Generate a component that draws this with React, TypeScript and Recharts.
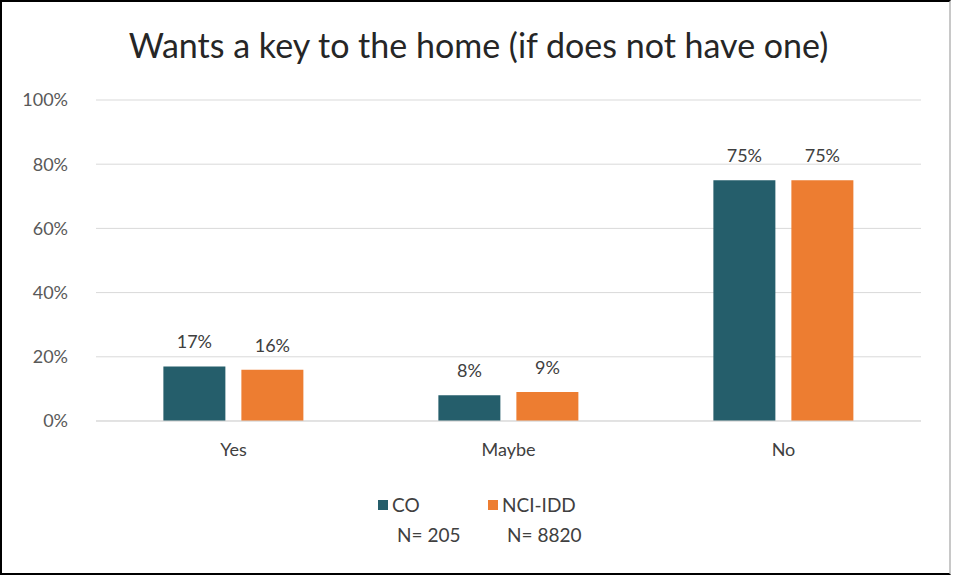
import React from 'react';
import { BarChart, Bar, XAxis, YAxis, CartesianGrid, LabelList } from 'recharts';

const categories = ['Yes', 'Maybe', 'No'];
const coValues = [17, 8, 75];
const nciValues = [16, 9, 75];
const yTicks = [0, 20, 40, 60, 80, 100];

const data = categories.map((name, i) => ({ name, co: coValues[i], nci: nciValues[i] }));

const FONT = 'Lato, "Open Sans", sans-serif';
const TEAL = '#255E6B';
const ORANGE = '#ED7D31';

export default function App() {
  return (
    <div
      style={{
        position: 'absolute',
        left: 0,
        top: 0,
        width: 957,
        height: 579,
        background: '#fff',
        fontFamily: FONT,
      }}
    >
      <div
        style={{
          position: 'absolute',
          left: 0,
          top: 0,
          width: 951,
          height: 575,
          borderTop: '2px solid #000',
          borderLeft: '2px solid #000',
          borderBottom: '2px solid #000',
          borderRight: '2px solid #c8c8c8',
          boxSizing: 'border-box',
        }}
      />
      <div
        style={{
          position: 'absolute',
          left: 0,
          top: 24,
          width: 957,
          textAlign: 'center',
          fontSize: 34,
          color: '#262626',
        }}
      >
        Wants a key to the home (if does not have one)
      </div>
      <div style={{ position: 'absolute', left: 0, top: 0 }}>
        <BarChart
          width={957}
          height={579}
          data={data}
          margin={{ top: 100, right: 36, bottom: 128, left: 0 }}
          barCategoryGap="24.5%"
          barGap={16}
        >
          <CartesianGrid vertical={false} stroke="#d9d9d9" />
          <XAxis
            dataKey="name"
            axisLine={{ stroke: '#d9d9d9' }}
            tickLine={false}
            tickMargin={16}
            tick={{ fontSize: 18, fill: '#404040', fontFamily: FONT }}
          />
          <YAxis
            width={96}
            domain={[0, 100]}
            ticks={yTicks}
            axisLine={false}
            tickLine={false}
            tickMargin={22}
            tickFormatter={(v: number) => `${v}%`}
            tick={{ fontSize: 18, fill: '#595959', fontFamily: FONT }}
          />
          <Bar dataKey="co" fill={TEAL} isAnimationActive={false}>
            <LabelList
              dataKey="co"
              position="top"
              offset={18}
              formatter={(v: number) => `${v}%`}
              style={{ fontSize: 18, fill: '#404040', fontFamily: FONT }}
            />
          </Bar>
          <Bar dataKey="nci" fill={ORANGE} isAnimationActive={false}>
            <LabelList
              dataKey="nci"
              position="top"
              offset={18}
              formatter={(v: number) => `${v}%`}
              style={{ fontSize: 18, fill: '#404040', fontFamily: FONT }}
            />
          </Bar>
        </BarChart>
      </div>
      <div style={{ position: 'absolute', left: 378, top: 494, fontSize: 19, color: '#404040', lineHeight: '22px' }}>
        <div style={{ position: 'absolute', left: 0, top: 6, width: 10, height: 10, background: TEAL }} />
        <div style={{ position: 'absolute', left: 14, top: 0, whiteSpace: 'nowrap' }}>CO</div>
        <div style={{ position: 'absolute', left: 19, top: 30, whiteSpace: 'nowrap' }}>N= 205</div>
        <div style={{ position: 'absolute', left: 110, top: 6, width: 10, height: 10, background: ORANGE }} />
        <div style={{ position: 'absolute', left: 124, top: 0, whiteSpace: 'nowrap' }}>NCI-IDD</div>
        <div style={{ position: 'absolute', left: 129, top: 30, whiteSpace: 'nowrap' }}>N= 8820</div>
      </div>
    </div>
  );
}
